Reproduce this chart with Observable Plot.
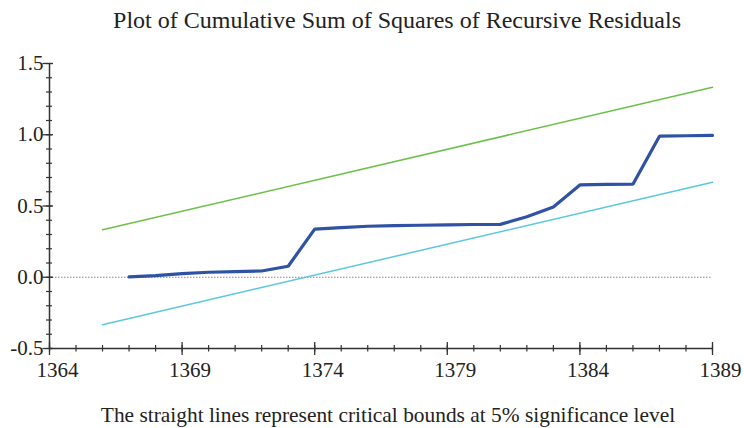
<!DOCTYPE html>
<html>
<head>
<meta charset="utf-8">
<script src="https://cdn.jsdelivr.net/npm/d3@7"></script>
<script src="https://cdn.jsdelivr.net/npm/@observablehq/plot@0.6"></script>
<style>
  body { margin: 0; background: #fff; width: 744px; overflow: hidden; }
  .title { font-family: "Liberation Serif", serif; font-size: 24px; color: #222; height: 40px; line-height: 40px; text-align: center; padding-left: 50px; white-space: nowrap; }
  .caption { font-family: "Liberation Serif", serif; font-size: 21.4px; color: #222; height: 40px; line-height: 40px; text-align: center; padding-left: 32px; white-space: nowrap; }
  #chart svg { display: block; }
</style>
</head>
<body>
<div class="title">Plot of Cumulative Sum of Squares of Recursive Residuals</div>
<div id="chart"></div>
<div class="caption">The straight lines represent critical bounds at 5% significance level</div>
<script>
// Data
const years = [1367,1368,1369,1370,1371,1372,1373,1374,1375,1376,1377,1378,1379,1380,1381,1382,1383,1384,1385,1386,1387,1388,1389];
const cusumsq = [0.002,0.012,0.025,0.035,0.040,0.044,0.077,0.338,0.348,0.358,0.362,0.365,0.368,0.370,0.371,0.425,0.493,0.648,0.652,0.653,0.990,0.993,0.995];
const boundYears = [1366, 1389];
const upperBound = [0.333, 1.333];
const lowerBound = [-0.333, 0.667];
const xDomain = [1364, 1389];
const yDomain = [-0.5, 1.5];
const xTickValues = [1364, 1369, 1374, 1379, 1384, 1389];
const xTickLabels = ["1364", "1369", "1374", "1379", "1384", "1389"];
const yTickValues = [-0.5, 0, 0.5, 1.0, 1.5];
const yTickLabels = ["-0.5", "0.0", "0.5", "1.0", "1.5"];
const xMinorTicks = d3.range(1364, 1390, 1);
const yMinorTicks = d3.range(-5, 16, 1).map(d => d / 10);

const series = years.map((y, i) => ({year: y, value: cusumsq[i]}));
const upper = boundYears.map((y, i) => ({year: y, value: upperBound[i]}));
const lower = boundYears.map((y, i) => ({year: y, value: lowerBound[i]}));

const axisColor = "#333";
const serif = "Liberation Serif";
const x0 = xDomain[0], x1 = xDomain[1], yb = yDomain[0], yt = yDomain[1];

const chart = Plot.plot({
  width: 744,
  height: 355,
  marginTop: 23,
  marginBottom: 47,
  marginLeft: 49,
  marginRight: 32,
  style: {fontFamily: serif, color: "#222", background: "#fff"},
  x: {domain: xDomain, axis: null},
  y: {domain: yDomain, axis: null},
  marks: [
    // dotted zero line
    Plot.ruleY([0], {x1: x0, x2: x1, stroke: "#888", strokeWidth: 1, strokeDasharray: "1.5,1.5"}),
    // bounds
    Plot.line(upper, {x: "year", y: "value", stroke: "#6cc04a", strokeWidth: 1.5}),
    Plot.line(lower, {x: "year", y: "value", stroke: "#5ac8dc", strokeWidth: 1.5}),
    // CUSUM of squares
    Plot.line(series, {x: "year", y: "value", stroke: "#2f52a5", strokeWidth: 3.2, strokeLinejoin: "miter"}),
    // axis lines
    Plot.ruleY([yb], {x1: x0, x2: x1, stroke: axisColor, strokeWidth: 1.5}),
    Plot.ruleX([x0], {y1: yb, y2: yt, stroke: axisColor, strokeWidth: 1.5}),
    // x ticks
    Plot.ruleX(xMinorTicks, {x: d => d, y1: yb, y2: yb, insetTop: -3, insetBottom: -3.5, stroke: axisColor, strokeWidth: 1.2}),
    Plot.ruleX(xTickValues, {x: d => d, y1: yb, y2: yb, insetTop: -6, insetBottom: -7, stroke: axisColor, strokeWidth: 1.3}),
    // y ticks
    Plot.ruleY(yMinorTicks, {y: d => d, x1: x0, x2: x0, insetLeft: -3, insetRight: -3, stroke: axisColor, strokeWidth: 1.2}),
    Plot.ruleY(yTickValues, {y: d => d, x1: x0, x2: x0, insetLeft: -6.5, insetRight: -4, stroke: axisColor, strokeWidth: 1.3}),
    // tick labels
    Plot.axisX({ticks: xTickValues, tickFormat: (d) => xTickLabels[xTickValues.indexOf(d)], tickSize: 0, tickPadding: 13.6, fontSize: 21, fontFamily: serif, dx: 8, fill: "#222", label: null}),
    Plot.axisY({ticks: yTickValues, tickFormat: (d) => yTickLabels[yTickValues.indexOf(d)], tickSize: 0, tickPadding: 6, fontSize: 21, fontFamily: serif, fill: "#222", label: null})
  ]
});
document.getElementById("chart").appendChild(chart);
</script>
</body>
</html>
